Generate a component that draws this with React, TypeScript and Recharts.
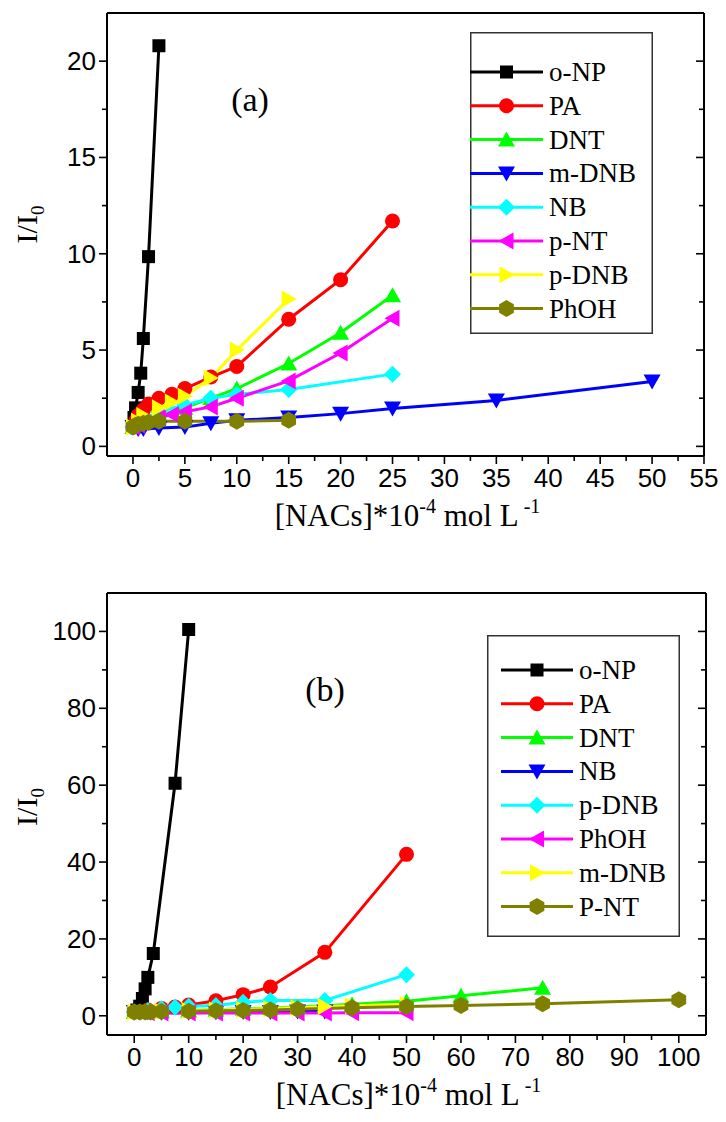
import React from 'react';
import { LineChart, Line, XAxis, YAxis, Legend, Label } from 'recharts';

const SERIF = "'Liberation Serif', 'Times New Roman', serif";
const SANS = "'Liberation Sans', Arial, sans-serif";

// ---------------- Panel (a) data ----------------
const aONP_x = [0, 0.1, 0.25, 0.5, 0.75, 1.0, 1.5, 2.5];
const aONP_y = [1.0, 1.5, 2.0, 2.8, 3.8, 5.6, 9.85, 20.8];
const aPA_x = [0, 0.25, 0.5, 1, 1.5, 2.5, 3.75, 5, 7.5, 10, 15, 20, 25];
const aPA_y = [1.0, 1.3, 1.6, 1.9, 2.2, 2.5, 2.7, 3.0, 3.6, 4.15, 6.6, 8.65, 11.7];
const aDNT_x = [0, 0.5, 1, 2.5, 5, 7.5, 10, 15, 20, 25];
const aDNT_y = [1.0, 1.15, 1.3, 1.6, 2.0, 2.5, 3.0, 4.3, 5.9, 7.85];
const aMDNB_x = [0, 0.5, 1, 2.5, 5, 7.5, 10, 15, 20, 25, 35, 50];
const aMDNB_y = [1.0, 0.9, 0.9, 0.95, 1.0, 1.2, 1.35, 1.5, 1.7, 1.97, 2.38, 3.37];
const aNB_x = [0, 0.5, 1, 2.5, 5, 7.5, 10, 15, 25];
const aNB_y = [1.0, 1.2, 1.4, 1.8, 2.15, 2.5, 2.7, 2.95, 3.75];
const aPNT_x = [0, 0.5, 1, 2.5, 3.75, 5, 7.5, 10, 15, 20, 25];
const aPNT_y = [1.0, 1.1, 1.25, 1.5, 1.65, 1.8, 2.05, 2.5, 3.4, 4.85, 6.65];
const aPDNB_x = [0, 0.5, 1, 2.5, 3.75, 5, 7.5, 10, 15];
const aPDNB_y = [1.0, 1.3, 1.6, 2.0, 2.3, 2.6, 3.55, 5.0, 7.65];
const aPhOH_x = [0, 0.25, 0.5, 1, 1.5, 2.5, 5, 10, 15];
const aPhOH_y = [1.0, 1.1, 1.15, 1.2, 1.25, 1.3, 1.3, 1.3, 1.35];

const aXTicks = [0, 2.5, 5, 7.5, 10, 12.5, 15, 17.5, 20, 22.5, 25, 27.5, 30, 32.5, 35, 37.5, 40, 42.5, 45, 47.5, 50, 52.5, 55];
const aXLabels = [0, 5, 10, 15, 20, 25, 30, 35, 40, 45, 50, 55];
const aYTicks = [0, 2.5, 5, 7.5, 10, 12.5, 15, 17.5, 20];
const aYLabels = [0, 5, 10, 15, 20];

// ---------------- Panel (b) data ----------------
const bONP_x = [0, 0.5, 1, 1.5, 2, 2.5, 3.5, 7.5, 10];
const bONP_y = [1.0, 1.5, 2.5, 4.5, 7.0, 10.0, 16.2, 60.5, 100.5];
const bPA_x = [0, 2.5, 5, 7.5, 10, 15, 20, 25, 35, 50];
const bPA_y = [1.0, 1.5, 1.9, 2.3, 2.8, 3.9, 5.5, 7.5, 16.5, 42.0];
const bDNT_x = [0, 5, 10, 15, 20, 25, 30, 35, 40, 50, 60, 75];
const bDNT_y = [1.0, 1.2, 1.4, 1.6, 1.8, 2.0, 2.3, 2.6, 3.0, 3.8, 5.2, 7.3];
const bNB_x = [0, 2.5, 5, 10, 15, 20, 25, 30, 35];
const bNB_y = [1.0, 0.9, 0.8, 0.8, 0.9, 1.0, 1.0, 1.1, 1.1];
const bPDNB_x = [0, 2.5, 5, 7.5, 10, 15, 20, 25, 35, 50];
const bPDNB_y = [1.0, 1.4, 1.8, 2.2, 2.5, 2.7, 3.5, 4.0, 4.0, 10.7];
const bPhOH_x = [0, 2.5, 5, 10, 15, 20, 25, 30, 35, 40, 50];
const bPhOH_y = [1.0, 0.8, 0.7, 0.7, 0.7, 0.7, 0.7, 0.7, 0.7, 0.8, 0.8];
const bMDNB_x = [0, 5, 10, 15, 20, 25, 30, 35, 40, 50];
const bMDNB_y = [1.0, 1.2, 1.4, 1.5, 1.7, 1.9, 2.1, 2.4, 2.6, 3.0];
const bPNT_x = [0, 1, 2, 3, 5, 10, 15, 20, 25, 30, 40, 50, 60, 75, 100];
const bPNT_y = [1.0, 1.0, 1.0, 1.0, 1.1, 1.2, 1.3, 1.4, 1.5, 1.7, 2.1, 2.4, 2.7, 3.1, 4.2];

const bXTicks = [0, 5, 10, 15, 20, 25, 30, 35, 40, 45, 50, 55, 60, 65, 70, 75, 80, 85, 90, 95, 100];
const bXLabels = [0, 10, 20, 30, 40, 50, 60, 70, 80, 90, 100];
const bYTicks = [0, 10, 20, 30, 40, 50, 60, 70, 80, 90, 100];
const bYLabels = [0, 20, 40, 60, 80, 100];

type Shape = 'square' | 'circle' | 'up' | 'down' | 'diamond' | 'left' | 'right' | 'hex';
type Series = { name: string; color: string; shape: Shape; x: number[]; y: number[] };

const aSeries: Series[] = [
  { name: 'o-NP', color: '#000000', shape: 'square', x: aONP_x, y: aONP_y },
  { name: 'PA', color: '#FF0000', shape: 'circle', x: aPA_x, y: aPA_y },
  { name: 'DNT', color: '#00FF00', shape: 'up', x: aDNT_x, y: aDNT_y },
  { name: 'm-DNB', color: '#0000FF', shape: 'down', x: aMDNB_x, y: aMDNB_y },
  { name: 'NB', color: '#00FFFF', shape: 'diamond', x: aNB_x, y: aNB_y },
  { name: 'p-NT', color: '#FF00FF', shape: 'left', x: aPNT_x, y: aPNT_y },
  { name: 'p-DNB', color: '#FFFF00', shape: 'right', x: aPDNB_x, y: aPDNB_y },
  { name: 'PhOH', color: '#808000', shape: 'hex', x: aPhOH_x, y: aPhOH_y },
];

const bSeries: Series[] = [
  { name: 'o-NP', color: '#000000', shape: 'square', x: bONP_x, y: bONP_y },
  { name: 'PA', color: '#FF0000', shape: 'circle', x: bPA_x, y: bPA_y },
  { name: 'DNT', color: '#00FF00', shape: 'up', x: bDNT_x, y: bDNT_y },
  { name: 'NB', color: '#0000FF', shape: 'down', x: bNB_x, y: bNB_y },
  { name: 'p-DNB', color: '#00FFFF', shape: 'diamond', x: bPDNB_x, y: bPDNB_y },
  { name: 'PhOH', color: '#FF00FF', shape: 'left', x: bPhOH_x, y: bPhOH_y },
  { name: 'm-DNB', color: '#FFFF00', shape: 'right', x: bMDNB_x, y: bMDNB_y },
  { name: 'P-NT', color: '#808000', shape: 'hex', x: bPNT_x, y: bPNT_y },
];

function Marker({ cx, cy, shape, color }: { cx: number; cy: number; shape: Shape; color: string }) {
  const p = (pts: number[][]) => pts.map((q) => `${cx + q[0]},${cy + q[1]}`).join(' ');
  switch (shape) {
    case 'square':
      return <rect x={cx - 6.5} y={cy - 6.5} width={13} height={13} fill={color} />;
    case 'circle':
      return <circle cx={cx} cy={cy} r={7.5} fill={color} />;
    case 'up':
      return <polygon points={p([[0, -8], [-8.5, 7], [8.5, 7]])} fill={color} />;
    case 'down':
      return <polygon points={p([[0, 8], [-8.5, -7], [8.5, -7]])} fill={color} />;
    case 'diamond':
      return <polygon points={p([[0, -8.5], [8.5, 0], [0, 8.5], [-8.5, 0]])} fill={color} />;
    case 'left':
      return <polygon points={p([[-8, 0], [7, -8.5], [7, 8.5]])} fill={color} />;
    case 'right':
      return <polygon points={p([[8, 0], [-7, -8.5], [-7, 8.5]])} fill={color} />;
    case 'hex': {
      const r = 8.5;
      const pts: number[][] = [];
      for (let i = 0; i < 6; i++) {
        const a = (Math.PI / 180) * (-90 + 60 * i);
        pts.push([r * Math.cos(a), r * Math.sin(a)]);
      }
      return <polygon points={p(pts)} fill={color} />;
    }
  }
  return null;
}

const isIn = (arr: number[], v: number) => arr.some((a) => Math.abs(a - v) < 1e-9);

function makeTick(side: 'bottom' | 'left' | 'top' | 'right', labels: number[]) {
  return (props: any) => {
    const { x, y, payload } = props;
    const v = payload.value;
    const major = isIn(labels, v);
    const len = major ? 8 : 5;
    const st = { stroke: '#000', strokeWidth: 1.6 };
    if (side === 'bottom') {
      return (
        <g>
          <line x1={x} x2={x} y1={y} y2={y + len} {...st} />
          {major && (
            <text x={x} y={y + 31} textAnchor="middle" fontFamily={SANS} fontSize={26} fill="#000">
              {v}
            </text>
          )}
        </g>
      );
    }
    if (side === 'left') {
      return (
        <g>
          <line x1={x} x2={x - len} y1={y} y2={y} {...st} />
          {major && (
            <text x={x - 11} y={y + 9} textAnchor="end" fontFamily={SANS} fontSize={26} fill="#000">
              {v}
            </text>
          )}
        </g>
      );
    }
    if (side === 'top') {
      return <line x1={x} x2={x} y1={y} y2={y + len} {...st} />;
    }
    return <line x1={x} x2={x - len} y1={y} y2={y} {...st} />;
  };
}

function LegendBox({ series, w, h, top0, lineX0, lineX1, textX }: { series: Series[]; w: number; h: number; top0: number; lineX0: number; lineX1: number; textX: number }) {
  const step = 33.8;
  return (
    <svg width={w} height={h} style={{ display: 'block', overflow: 'visible' }}>
      <rect x={0.75} y={0.75} width={w - 1.5} height={h - 1.5} fill="#fff" stroke="#333" strokeWidth={1.5} />
      {series.map((s, i) => {
        const cy = top0 + i * step;
        return (
          <g key={s.name}>
            <line x1={lineX0} x2={lineX1} y1={cy} y2={cy} stroke={s.color} strokeWidth={3} />
            <Marker cx={(lineX0 + lineX1) / 2} cy={cy} shape={s.shape} color={s.color} />
            <text x={textX} y={cy + 9} fontFamily={SERIF} fontSize={27} fill="#000">
              {s.name}
            </text>
          </g>
        );
      })}
    </svg>
  );
}

const XTitle = (props: any) => {
  const vb = props.viewBox;
  return (
    <text x={vb.x + vb.width / 2 + 2} y={vb.y + 70} textAnchor="middle" fontFamily={SERIF} fontSize={31} fill="#000">
      [NACs]*10
      <tspan fontSize={20} dy={-13}>-4</tspan>
      <tspan dy={13}> mol L</tspan>
      <tspan fontSize={20} dy={-13}> -1</tspan>
    </text>
  );
};

const makeYTitle = (dyc: number) => (props: any) => {
  const vb = props.viewBox;
  const cx = 37;
  const cy = vb.y + vb.height / 2 + dyc;
  return (
    <text x={cx} y={cy} transform={`rotate(-90, ${cx}, ${cy})`} textAnchor="middle" fontFamily={SERIF} fontSize={30} fill="#000">
      I/I
      <tspan fontSize={19} dy={7}>0</tspan>
    </text>
  );
};

const makePanelTag = (text: string, dx: number, dy: number) => (props: any) => {
  const vb = props.viewBox;
  return (
    <text x={vb.x + dx} y={vb.y + vb.height + dy} textAnchor="middle" fontFamily={SERIF} fontSize={34} fill="#000">
      {text}
    </text>
  );
};

function Panel({
  series, width, height, margin, xDomain, yDomain, xTicks, xLabels, yTicks, yLabels, tag, tagDx, tagDy, yTitleDy, legendPos, legendProps,
}: any) {
  return (
    <LineChart width={width} height={height} margin={margin}>
      <XAxis
        xAxisId="x" type="number" dataKey="x" domain={xDomain} allowDataOverflow ticks={xTicks} interval={0}
        height={1} tickSize={0} tickMargin={0} tickLine={false} axisLine={{ stroke: '#000', strokeWidth: 2 }}
        tick={makeTick('bottom', xLabels)}
      >
        <Label content={XTitle} />
      </XAxis>
      <XAxis
        xAxisId="top" type="number" orientation="top" domain={xDomain} allowDataOverflow ticks={xTicks} interval={0}
        height={1} tickSize={0} tickMargin={0} tickLine={false} axisLine={{ stroke: '#000', strokeWidth: 2 }}
        tick={makeTick('top', xLabels)}
      >
        <Label content={makePanelTag(tag, tagDx, tagDy)} />
      </XAxis>
      <YAxis
        yAxisId="y" type="number" domain={yDomain} allowDataOverflow ticks={yTicks} interval={0}
        width={1} tickSize={0} tickMargin={0} tickLine={false} axisLine={{ stroke: '#000', strokeWidth: 2 }}
        tick={makeTick('left', yLabels)}
      >
        <Label content={makeYTitle(yTitleDy)} />
      </YAxis>
      <YAxis
        yAxisId="right" orientation="right" type="number" domain={yDomain} allowDataOverflow ticks={yTicks} interval={0}
        width={1} tickSize={0} tickMargin={0} tickLine={false} axisLine={{ stroke: '#000', strokeWidth: 2 }}
        tick={makeTick('right', yLabels)}
      />
      {series.map((s: Series) => (
        <Line
          key={s.name}
          xAxisId="x"
          yAxisId="y"
          data={s.x.map((xv, i) => ({ x: xv, y: s.y[i] }))}
          dataKey="y"
          name={s.name}
          stroke={s.color}
          strokeWidth={3}
          isAnimationActive={false}
          dot={(p: any) => <Marker key={`${s.name}-${p.index}`} cx={p.cx} cy={p.cy} shape={s.shape} color={s.color} />}
          activeDot={false}
        />
      ))}
      <Legend
        layout="vertical"
        align="center"
        verticalAlign="middle"
        wrapperStyle={{ position: 'absolute', left: legendPos.left, top: legendPos.top, width: legendProps.w, height: legendProps.h }}
        content={() => <LegendBox series={series} {...legendProps} />}
      />
    </LineChart>
  );
}

export default function App() {
  return (
    <div style={{ position: 'absolute', left: 0, top: 0, width: 726, height: 1122, background: '#fff' }}>
      <div style={{ position: 'absolute', left: 0, top: 0 }}>
        <Panel
          series={aSeries}
          width={726}
          height={560}
          margin={{ top: 12, right: 21, bottom: 103, left: 106 }}
          xDomain={[-2.5, 55]}
          yDomain={[-0.5, 22.5]}
          xTicks={aXTicks}
          xLabels={aXLabels}
          yTicks={aYTicks}
          yLabels={aYLabels}
          tag="(a)"
          tagDx={143}
          tagDy={98}
          yTitleDy={-10}
          legendPos={{ left: 470, top: 32 }}
          legendProps={{ w: 183, h: 302, top0: 40, lineX0: 0, lineX1: 73, textX: 79 }}
        />
      </div>
      <div style={{ position: 'absolute', left: 0, top: 580 }}>
        <Panel
          series={bSeries}
          width={726}
          height={542}
          margin={{ top: 12, right: 19, bottom: 86, left: 106 }}
          xDomain={[-5, 105]}
          yDomain={[-5, 110]}
          xTicks={bXTicks}
          xLabels={bXLabels}
          yTicks={bYTicks}
          yLabels={bYLabels}
          tag="(b)"
          tagDx={218}
          tagDy={108}
          yTitleDy={-7}
          legendPos={{ left: 487, top: 55 }}
          legendProps={{ w: 193, h: 302, top0: 35, lineX0: 14, lineX1: 86, textX: 92 }}
        />
      </div>
    </div>
  );
}
